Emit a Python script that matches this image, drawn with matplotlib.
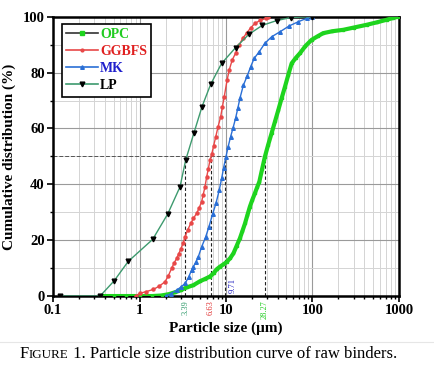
import matplotlib
matplotlib.use("Agg")
import matplotlib.pyplot as plt
from matplotlib.lines import Line2D
from matplotlib.ticker import LogLocator, MultipleLocator, NullFormatter
import matplotlib.transforms as mtransforms

plt.rcParams['font.family'] = ['Liberation Serif', 'DejaVu Serif']

# ---- data ----
opc_x = [0.35, 0.5, 0.7, 1.0, 1.4, 1.8, 2.2, 2.6, 3.0, 3.51, 4.2, 5.0, 5.7, 6.53, 7.2,
         7.82, 8.5, 9.3, 10.2, 11.2, 12.2, 13.3, 14.5, 15.5, 16.6, 17.7, 18.9, 20.2, 21.6, 22.9,
         24.3, 26.2, 28.2, 30.8, 33.7, 36.9, 40.3, 44.0, 48.1, 52.6, 57.5, 64.0, 71.6, 83.0, 97.7,
         115, 133, 170, 227, 300, 424, 560, 721, 850, 977]
opc_y = [0, 0, 0, 0, 0, 0.2, 0.7, 1.4, 2.1, 3.1, 3.9, 5.3, 6.1, 7.0, 8.2,
         9.6, 10.5, 11.3, 12.2, 13.6, 15.3, 18.0, 20.7, 23.3, 26.0, 29.0, 32.0, 34.5, 36.8, 38.9,
         40.9, 45.5, 49.9, 54.2, 58.3, 62.5, 66.6, 70.8, 74.9, 79.2, 83.3, 85.2, 86.9, 89.5, 91.7,
         93.0, 94.1, 94.8, 95.3, 96.1, 97.1, 98.0, 98.9, 99.5, 100]

ggbfs_x = [0.9, 1.01, 1.2, 1.45, 1.7, 1.97, 2.15, 2.35, 2.5, 2.69, 2.85, 3.02, 3.2, 3.36, 3.6,
           3.91, 4.2, 4.58, 4.9, 5.23, 5.45, 5.71, 5.98, 6.24, 6.53, 6.84, 7.2, 7.61, 8.1, 8.68,
           9.1, 9.55, 10.3, 10.9, 11.8, 12.9, 14.2, 15.6, 17.3, 19.3, 21.6, 25.0, 29.0, 30.8]
ggbfs_y = [0, 1.0, 1.6, 2.4, 3.6, 5.1, 7.2, 9.9, 11.7, 13.5, 15.2, 17.0, 19.0, 21.2, 23.6,
           26.0, 27.8, 29.6, 31.6, 33.8, 36.3, 39.0, 42.7, 45.4, 48.7, 50.8, 53.8, 57.0, 60.6, 64.2,
           67.8, 71.4, 77.3, 80.9, 84.5, 86.9, 89.9, 92.2, 94.1, 96.0, 97.6, 98.7, 99.4, 100]

mk_x = [2.0, 2.3, 2.69, 3.0, 3.36, 3.7, 4.0, 4.19, 4.5, 4.79, 5.24, 5.8, 6.35, 7.0, 7.66,
        8.37, 8.91, 9.4, 10.0, 10.6, 11.3, 12.1, 12.9, 13.7, 14.5, 15.9, 17.6, 19.3, 21.2, 24.3,
        28.2, 33.7, 42.1, 53.9, 68.6, 85.7, 100]
mk_y = [0, 0.8, 2.1, 3.2, 4.5, 6.8, 9.3, 10.5, 12.2, 14.1, 17.7, 21.0, 24.8, 29.3, 33.2,
        38.0, 42.1, 46.0, 49.9, 53.5, 57.0, 60.3, 63.6, 67.2, 70.8, 75.5, 78.8, 82.1, 85.1, 87.5,
        90.5, 92.8, 94.6, 96.7, 98.2, 99.4, 100]

lp_x = [0.12, 0.35, 0.51, 0.74, 1.42, 2.12, 2.94, 3.42, 4.27, 5.28, 6.65, 8.9, 12.9, 18.4,
        26.3, 38.5, 56, 100]
lp_y = [0, 0, 5.5, 12.4, 20.3, 29.4, 39.1, 48.7, 58.5, 67.8, 75.8, 83.3, 88.9, 93.7,
        96.9, 98.6, 99.7, 100]

d50_vals = [3.39, 6.63, 9.71, 28.27]
d50_labels = ['3.39', '6.63', '9.71', '28.27']
d50_colors = ['#2e9a6a', '#e03030', '#2020c0', '#22cc22']

c_opc = '#1ed41e'
c_ggbfs = '#e84848'
c_mk = '#2a6fd6'
c_lp = '#3d9a6e'

fig = plt.figure(figsize=(4.35, 3.71), dpi=100)
ax = fig.add_axes([0.122, 0.202, 0.795, 0.753])

# grid
ax.set_xscale('log')
ax.set_xlim(0.1, 1000)
ax.set_ylim(0, 100)
ax.xaxis.set_major_locator(LogLocator(base=10, numticks=10))
ax.xaxis.set_minor_locator(LogLocator(base=10, subs=range(2, 10), numticks=50))
ax.xaxis.set_minor_formatter(NullFormatter())
ax.yaxis.set_major_locator(MultipleLocator(20))
ax.yaxis.set_minor_locator(MultipleLocator(10))
ax.grid(which='major', color='#9a9a9a', lw=0.8)
ax.grid(which='minor', color='#d4d4d4', lw=0.7)
ax.set_axisbelow(True)

# d50 guides
ax.plot([0.1, 28.27], [50, 50], ls='--', color='#555555', lw=0.7, dashes=(4, 2))
for v in d50_vals:
    ax.plot([v, v], [0, 50], ls='--', color='#222222', lw=0.8, dashes=(3, 2))

# curves
ax.plot(opc_x, opc_y, color=c_opc, lw=3.0, marker='s', ms=2.0, mfc=c_opc, mec=c_opc, zorder=3)
ax.plot(ggbfs_x, ggbfs_y, color=c_ggbfs, lw=1.0, marker='o', ms=2.2, mfc=c_ggbfs, mec=c_ggbfs, zorder=4)
ax.plot(mk_x, mk_y, color=c_mk, lw=1.0, marker='^', ms=2.6, mfc=c_mk, mec=c_mk, zorder=4)
ax.plot(lp_x, lp_y, color=c_lp, lw=1.0, marker='v', ms=3.4, mfc='black', mec='black', zorder=5)

# d50 labels
trans = mtransforms.blended_transform_factory(ax.transData, ax.transAxes)
for v, lab, col in zip(d50_vals, d50_labels, d50_colors):
    if lab == '9.71':
        ax.annotate(lab, xy=(v, 0), xycoords=trans, xytext=(2.5, 2), textcoords='offset points',
                    rotation=90, ha='left', va='bottom', fontsize=6.2, color=col)
    else:
        ax.annotate(lab, xy=(v, 0), xycoords=trans, xytext=(0, -3), textcoords='offset points',
                    rotation=90, ha='center', va='top', fontsize=6.0, color=col, annotation_clip=False)

# axes styling
for s in ax.spines.values():
    s.set_linewidth(1.8)
    s.set_color('black')
ax.tick_params(which='major', direction='out', length=4, width=1.2, labelsize=10.5, pad=2,
               top=False, right=False)
ax.tick_params(which='minor', direction='out', length=2.5, width=1.0, top=False, right=False)
ax.set_xticks([0.1, 1, 10, 100, 1000])
ax.set_xticklabels(['0.1', '1', '10', '100', '1000'])
for t in ax.get_xticklabels() + ax.get_yticklabels():
    t.set_fontweight('bold')

ax.set_xlabel('Particle size (\u03bcm)', fontsize=11, fontweight='bold')
ax.xaxis.set_label_coords(0.5, -0.09)
ax.set_ylabel('Cumulative distribution (%)', fontsize=11, fontweight='bold', labelpad=5)

# legend
handles = [
    Line2D([], [], color='#333333', lw=1.2, marker='s', ms=2.5, mfc=c_opc, mec=c_opc),
    Line2D([], [], color=c_ggbfs, lw=1.2, marker='o', ms=2.0, mfc=c_ggbfs, mec=c_ggbfs),
    Line2D([], [], color=c_mk, lw=1.2, marker='^', ms=2.6, mfc=c_mk, mec=c_mk),
    Line2D([], [], color=c_lp, lw=1.2, marker='v', ms=3.4, mfc='black', mec='black'),
]
leg = ax.legend(handles, ['OPC', 'GGBFS', 'MK', 'LP'], loc='upper left',
                bbox_to_anchor=(0.025, 0.975), fancybox=False, framealpha=1,
                edgecolor='black', handlelength=2.3, handletextpad=0.15,
                labelspacing=0.3, borderpad=0.3, borderaxespad=0,
                prop={'weight': 'bold', 'size': 10})
leg.get_frame().set_linewidth(1.2)
for t, col in zip(leg.get_texts(), ['#22cc22', '#e02020', '#2020cc', 'black']):
    t.set_color(col)

# separator + caption
fig.add_artist(Line2D([0.0, 1.0], [0.077, 0.077], color='#e6e6e6', lw=0.8, transform=fig.transFigure))

fig.canvas.draw()
r = fig.canvas.get_renderer()
W = fig.bbox.width
cy = 0.035
x0 = 0.045
parts = [('F', 12), ('IGURE', 9.4), (' 1. Particle size distribution curve of raw binders.', 12)]
for txt, sz in parts:
    t = fig.text(x0, cy, txt, fontsize=sz, va='baseline', ha='left')
    bb = t.get_window_extent(r)
    x0 = bb.x1 / W

fig.savefig('out.png', dpi=100)
